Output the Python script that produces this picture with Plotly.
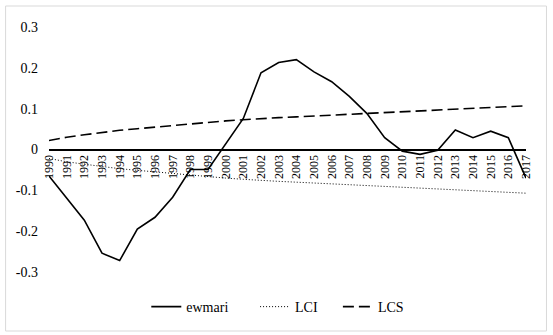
import plotly.graph_objects as go

years = [str(y) for y in range(1990, 2018)]
ewmari = [-0.065, -0.12, -0.173, -0.254, -0.272, -0.195, -0.166, -0.117, -0.049, -0.049,
          0.013, 0.076, 0.188, 0.213, 0.22, 0.19, 0.166, 0.13, 0.088, 0.029,
          -0.004, -0.012, -0.002, 0.048, 0.029, 0.045, 0.029, -0.07]
lcs = [0.022, 0.030, 0.036, 0.042, 0.047, 0.051, 0.055, 0.059, 0.063, 0.066,
       0.070, 0.073, 0.076, 0.078, 0.080, 0.082, 0.084, 0.086, 0.088, 0.090,
       0.092, 0.094, 0.096, 0.098, 0.100, 0.102, 0.104, 0.107]
lci = [-v for v in lcs]
ytick_vals = [-0.3, -0.2, -0.1, 0, 0.1, 0.2, 0.3]
ytick_text = ["-0.3", "-0.2", "-0.1", "0", "0.1", "0.2", "0.3"]

FONT = "Liberation Serif"
PW = 478.0

def leg(px):
    return dict(orientation="h", x=(px - 48.5) / PW, xanchor="left", y=-0.143,
                yanchor="middle", font=dict(family=FONT, size=14), itemwidth=30,
                bgcolor="rgba(0,0,0,0)")

fig = go.Figure()
fig.add_trace(go.Scatter(x=years, y=ewmari, name="ewmari", mode="lines",
                         line=dict(color="black", width=1.6), legend="legend"))
fig.add_trace(go.Scatter(x=years, y=lci, name="LCI", mode="lines",
                         line=dict(color="black", width=1, dash="1px,2px"), legend="legend2"))
fig.add_trace(go.Scatter(x=years, y=lcs, name="LCS", mode="lines",
                         line=dict(color="black", width=1.6, dash="11px,5px"), legend="legend3"))

fig.update_layout(
    width=553, height=335,
    margin=dict(l=48.5, r=26.5, t=27, b=63),
    paper_bgcolor="white", plot_bgcolor="white",
    font=dict(family=FONT, size=13, color="black"),
    showlegend=True,
    legend=leg(146),
    legend2=leg(255),
    legend3=leg(338),
    xaxis=dict(type="category", anchor="free", position=0.5, showline=True,
               linecolor="black", linewidth=1.5, showgrid=False, ticks="",
               tickangle=-90, tickfont=dict(family=FONT, size=12), zeroline=False,
               automargin=False),
    yaxis=dict(range=[-0.3, 0.3], tickvals=ytick_vals, ticktext=ytick_text,
               showgrid=False, zeroline=False, showline=False, ticks="",
               ticklabelstandoff=10, tickfont=dict(family=FONT, size=14),
               automargin=False),
    shapes=[dict(type="rect", xref="paper", yref="paper",
                 x0=-43.5/PW, x1=1 + 20.5/PW, y0=-59/245, y1=1 + 21/245,
                 line=dict(color="#d9d9d9", width=1), layer="below")],
)

fig.write_html("out.html", config={"displayModeBar": False},
               post_script="document.body.style.margin='0';")
